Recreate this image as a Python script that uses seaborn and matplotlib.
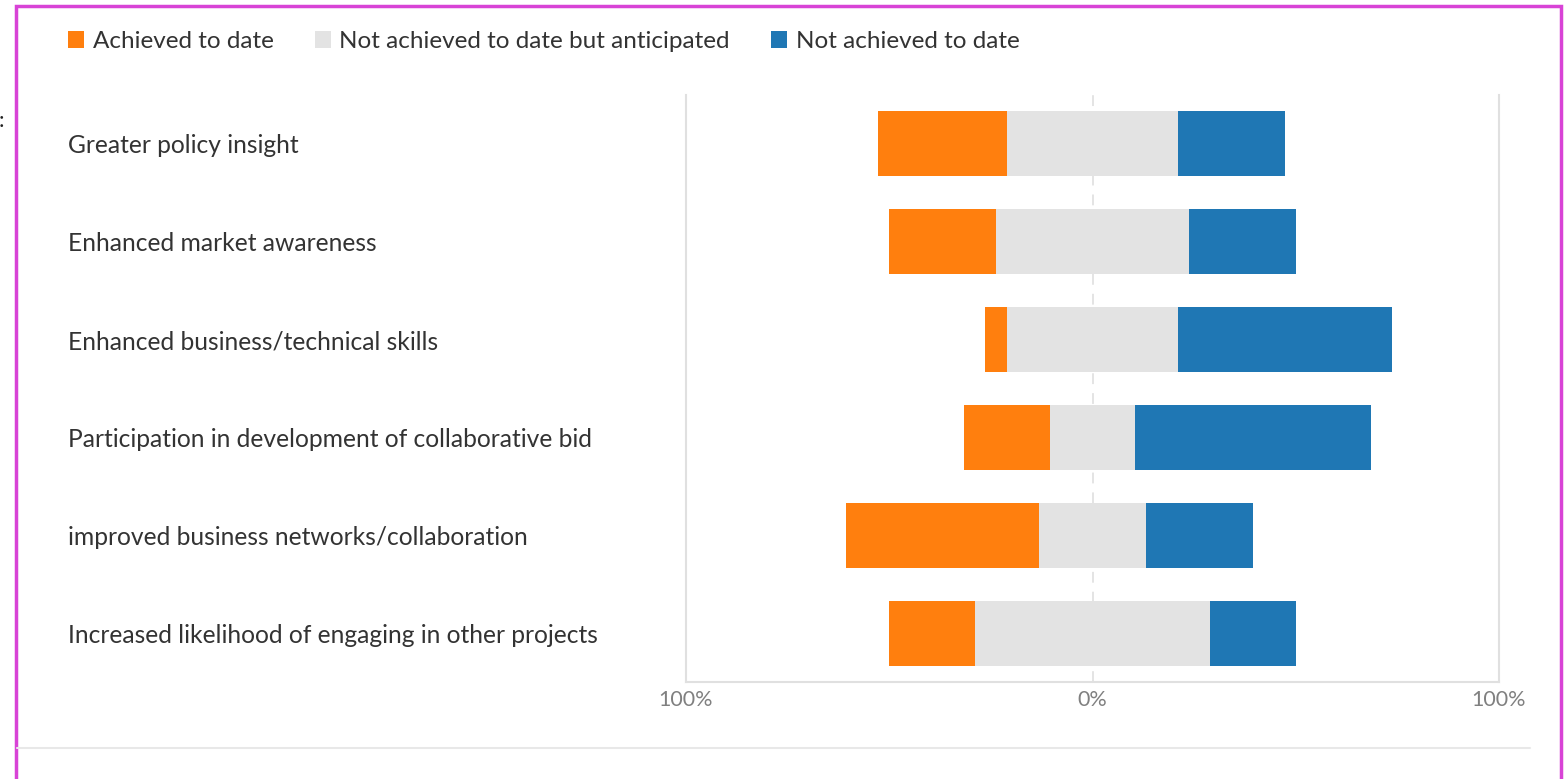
import matplotlib
matplotlib.use("Agg")
import matplotlib.pyplot as plt
from matplotlib.patches import Patch, Rectangle
from matplotlib.lines import Line2D
import pandas as pd
import seaborn as sns

# Data (% of respondents)
outcomes = [
    "Greater policy insight",
    "Enhanced market awareness",
    "Enhanced business/technical skills",
    "Participation in development of collaborative bid",
    "improved business networks/collaboration",
    "Increased likelihood of engaging in other projects",
]
achieved = [31.6, 26.3, 5.3, 21.1, 47.4, 21.1]
anticipated = [42.1, 47.4, 42.1, 21.1, 26.3, 57.9]
not_achieved = [26.3, 26.3, 52.6, 57.9, 26.3, 21.1]
series = ["Achieved to date", "Not achieved to date but anticipated", "Not achieved to date"]
colors = ["#ff7f0e", "#e3e3e3", "#1f77b4"]
tick_vals = [-100, 0, 100]
tick_labels = ["100%", "0%", "100%"]

df = pd.DataFrame({"outcome": outcomes, "achieved": achieved,
                   "anticipated": anticipated, "not_achieved": not_achieved})
# diverging layout: the "anticipated" segment is centred on 0
half = df["anticipated"] / 2
df["left_end"] = -(half + df["achieved"])
df["right_end"] = half + df["not_achieved"]
df["grey_r"] = half
df["grey_l"] = -half

sns.set_style("white")
plt.rcParams["font.family"] = ["Lato", "DejaVu Sans"]

W, H = 1564, 779
fig = plt.figure(figsize=(W / 100, H / 100), dpi=100)
ax = fig.add_axes([686 / W, 1 - 682 / H, (1499 - 686) / W, (682 - 95) / H])

bar_kw = dict(orient="h", width=0.665, linewidth=0, ax=ax, order=outcomes,
              saturation=1, errorbar=None, zorder=2)
sns.barplot(data=df, x="right_end", y="outcome", color=colors[2], **bar_kw)
sns.barplot(data=df, x="left_end", y="outcome", color=colors[0], **bar_kw)
sns.barplot(data=df, x="grey_r", y="outcome", color=colors[1], **bar_kw)
sns.barplot(data=df, x="grey_l", y="outcome", color=colors[1], **bar_kw)

ax.set_xlim(-100, 100)
ax.set_ylim(len(outcomes) - 0.5, -0.5)
ax.axvline(0, color="#e2e2e2", lw=1.3, ls=(0, (6, 5)), zorder=1)

for side in ["left", "right", "bottom"]:
    ax.spines[side].set_color("#e0e0e0")
    ax.spines[side].set_linewidth(1.5)
ax.spines["top"].set_visible(False)

ax.set_xticks(tick_vals, tick_labels)
ax.tick_params(axis="x", length=0, pad=5.5, labelcolor="#808080", labelsize=15.5)
ax.tick_params(axis="y", length=0, pad=445, labelsize=17.7, labelcolor="#333333")
for t in ax.get_yticklabels():
    t.set_ha("left")
ax.set_xlabel("")
ax.set_ylabel("")

handles = [Patch(facecolor=c, edgecolor="none") for c in colors]
fig.legend(handles, series, loc="upper left", bbox_to_anchor=(68 / W, 1 - 31 / H),
           ncol=3, frameon=False, fontsize=17.5, handlelength=0.66, handleheight=0.66,
           handletextpad=0.35, columnspacing=1.7, borderaxespad=0, borderpad=0,
           labelcolor="#333333")

# frame and separator from the screenshot
fig.add_artist(Rectangle((16 / W, -0.05), (1561 - 16) / W, 1 - 6 / H + 0.05,
                         transform=fig.transFigure, fill=False,
                         edgecolor="#d843d6", lw=2.5))
fig.add_artist(Line2D([17 / W, 1530 / W], [1 - 748 / H] * 2,
                      transform=fig.transFigure, color="#e8e8e8", lw=1.5))
fig.text(-1 / W, 1 - 121 / H, ":", fontsize=16, color="#222222", va="center")

fig.savefig("out.png", dpi=100)
